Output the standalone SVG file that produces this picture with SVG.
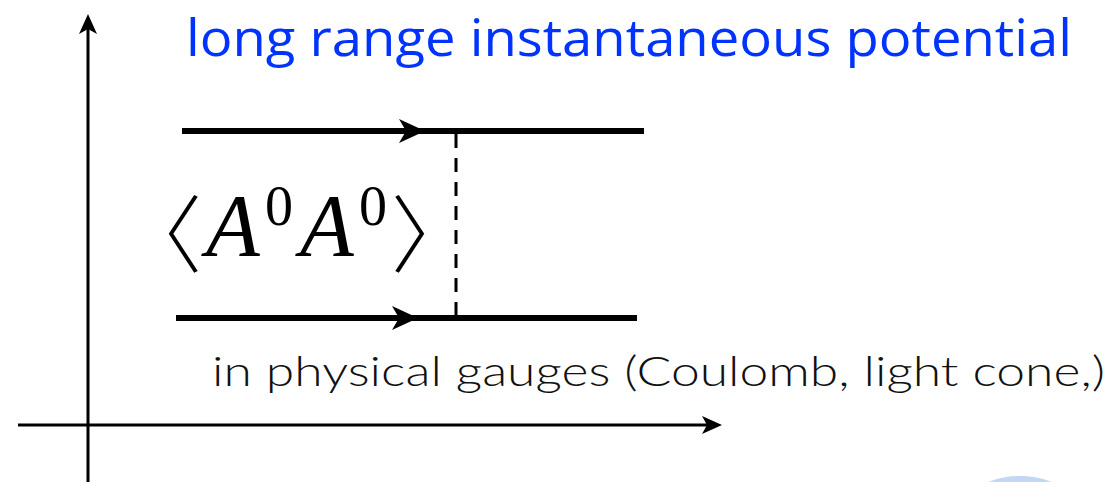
<svg xmlns="http://www.w3.org/2000/svg" width="1118" height="482" viewBox="0 0 1118 482">
<style>
.axis{stroke:#000;stroke-width:3;fill:none}
.fermion{stroke:#000;stroke-width:6;fill:none}
.photon{stroke:#000;stroke-width:3;stroke-dasharray:14,10;fill:none}
.title{font-family:"Open Sans","Liberation Sans",sans-serif;fill:#0033ff;font-size:52px}
.sub{font-family:"Lato","Liberation Sans",sans-serif;font-weight:300;fill:#111;font-size:42px}
.math{font-family:"Liberation Serif",serif;fill:#000}
.br{font-family:"Noto Sans CJK JP",sans-serif;font-weight:300;fill:#000;font-size:84px}
</style>
<ellipse cx="1020" cy="492" rx="40" ry="16" fill="#aac4f0" opacity="0.7"/>
<g id="axes">
<line class="axis" x1="88" y1="482" x2="88" y2="22"/>
<path d="M88,14 L97,34 L88,29 L79,34 Z" fill="#000"/>
<line class="axis" x1="18" y1="425" x2="712" y2="425"/>
<path d="M722,425 L702,416 L707,425 L702,434 Z" fill="#000"/>
</g>
<g id="connectors">
<line class="fermion" x1="182" y1="131" x2="644" y2="131"/>
<path d="M425,131 L399,119 L406,131 L399,143 Z" fill="#000"/>
<line class="fermion" x1="176" y1="318" x2="637" y2="318"/>
<path d="M418,318 L392,306 L399,318 L392,330 Z" fill="#000"/>
<line class="photon" x1="456" y1="134" x2="456" y2="316"/>
</g>
<g id="title">
<text class="title" x="186" y="56" textLength="886" lengthAdjust="spacingAndGlyphs">long range instantaneous potential</text>
</g>
<g id="label">
<text class="br" x="160" y="266" text-anchor="middle">〈</text>
<text class="math" x="206" y="255" font-size="88" font-style="italic">A</text>
<text class="math" x="265" y="225" font-size="56">0</text>
<text class="math" x="300" y="255" font-size="88" font-style="italic">A</text>
<text class="math" x="359" y="225" font-size="56">0</text>
<text class="br" x="433" y="266" text-anchor="middle">〉</text>
</g>
<g id="subtitle">
<text class="sub" x="212" y="386" textLength="893" lengthAdjust="spacingAndGlyphs">in physical gauges (Coulomb, light cone,)</text>
</g>
</svg>
